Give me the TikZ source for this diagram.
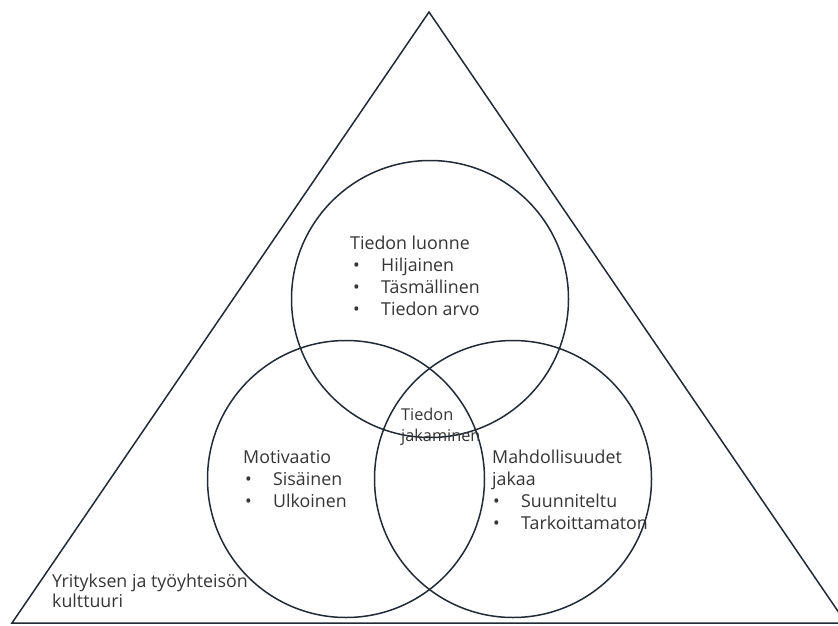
\documentclass[tikz,border=0pt]{standalone}
\usepackage{fontspec}
\setmainfont{Open Sans}
\definecolor{linecol}{HTML}{222A35}
\definecolor{txtcol}{HTML}{353535}
\newcommand{\blt}{\makebox[28pt][l]{\textbullet}}
\begin{document}
\begin{tikzpicture}[x=1pt,y=-1pt,
  ring/.style={draw=linecol,line width=1.5pt,circle,inner sep=0pt,minimum size=277pt},
  label/.style={text=txtcol,anchor=base west,align=left,inner sep=0pt,
    font=\fontsize{17.8}{22}\selectfont},
  small/.style={label,font=\fontsize{16.3}{21}\selectfont}]
\useasboundingbox (0,0) rectangle (838,626);
\clip (0,0) rectangle (838,626);
\fill[white] (0,0) rectangle (838,626);
% outer triangle
\coordinate (apex) at (429,12);
\coordinate (bl) at (12,623);
\coordinate (br) at (846,623);
\draw[linecol,line width=1.5pt,line join=miter] (bl) -- (apex) -- (br) -- cycle;
% three overlapping circles
\node[ring] (top) at (430,299) {};
\node[ring] (left) at (346,479) {};
\node[ring] (right) at (513,479) {};
% texts (each node is anchored at the baseline of its last line)
\node[label] (tl) at (350,315) {Tiedon luonne\\\hspace*{3pt}\blt Hiljainen\\\hspace*{3pt}\blt Täsmällinen\\\hspace*{3pt}\blt Tiedon arvo};
\node[small] (tj) at (401,441) {Tiedon\\jakaminen};
\node[label] (mo) at (243,507) {Motivaatio\\\hspace*{2pt}\blt Sisäinen\\\hspace*{2pt}\blt Ulkoinen};
\node[label] (ma) at (492,529) {Mahdollisuudet\\jakaa\\\hspace*{1pt}\blt Suunniteltu\\\hspace*{1pt}\blt Tarkoittamaton};
\node[label,font=\fontsize{17.8}{19.5}\selectfont] (yr) at (52,607) {Yrityksen ja työyhteisön\\kulttuuri};
\end{tikzpicture}
\end{document}
